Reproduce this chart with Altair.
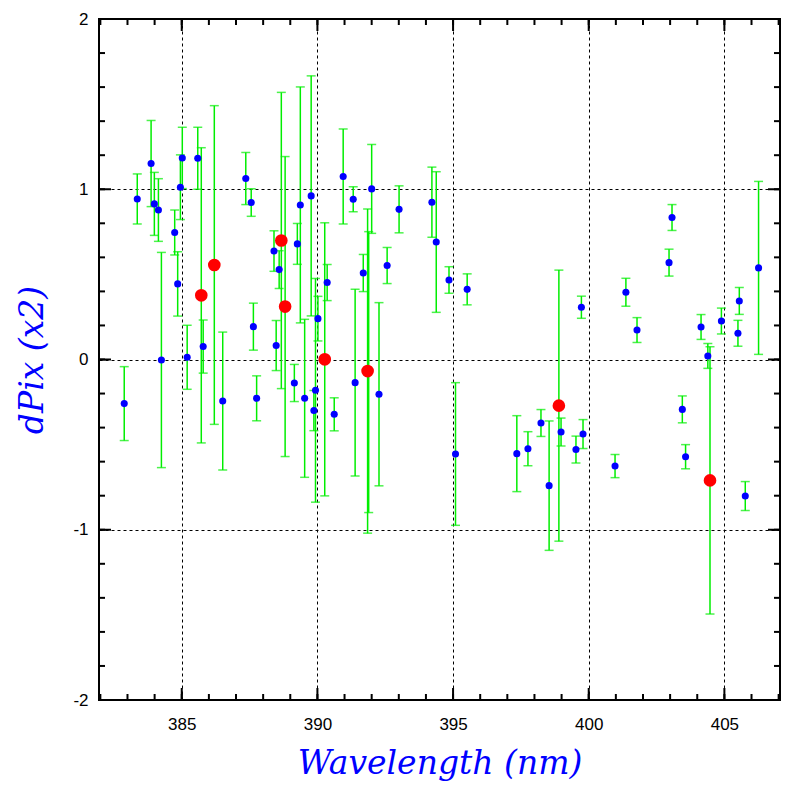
import altair as alt
import pandas as pd

# Blue series: wavelength (nm), dPix, error
blue_x = [382.88, 383.36, 383.87, 383.99, 384.14, 384.25, 384.74, 384.85, 384.95, 385.02,
          385.20, 385.59, 385.79, 386.51, 387.36, 387.56, 387.64, 387.76, 388.40, 388.48,
          388.59, 389.15, 389.26, 389.37, 389.53, 389.77, 389.87, 389.93, 390.02, 390.36,
          390.62, 390.95, 391.32, 391.39, 391.69, 391.89, 392.00, 392.27, 392.57, 393.01,
          394.22, 394.38, 394.85, 395.09, 395.52, 397.35, 397.76, 398.24, 398.54, 398.98,
          399.53, 399.73, 399.79, 400.97, 401.37, 401.78, 402.96, 403.07, 403.45, 403.57,
          404.14, 404.39, 404.89, 405.50, 405.55, 405.77, 406.26]
blue_y = [-0.259, 0.943, 1.151, 0.914, 0.878, -0.003, 0.746, 0.444, 1.012, 1.184,
          0.013, 1.182, 0.076, -0.244, 1.063, 0.922, 0.193, -0.228, 0.637, 0.082,
          0.528, -0.138, 0.679, 0.908, -0.228, 0.961, -0.300, -0.181, 0.240, 0.452,
          -0.322, 1.075, 0.941, -0.136, 0.508, -0.074, 1.002, -0.204, 0.552, 0.882,
          0.924, 0.690, 0.467, -0.555, 0.412, -0.553, -0.524, -0.373, -0.741, -0.426,
          -0.529, 0.307, -0.438, -0.626, 0.395, 0.173, 0.569, 0.834, -0.293, -0.571,
          0.191, 0.021, 0.226, 0.154, 0.344, -0.802, 0.538]
blue_err = [0.217, 0.147, 0.253, 0.185, 0.184, 0.632, 0.132, 0.189, 0.190, 0.180,
            0.188, 0.182, 0.156, 0.405, 0.153, 0.081, 0.138, 0.132, 0.119, 0.147,
            0.111, 0.109, 0.120, 0.693, 0.464, 0.705, 0.118, 0.657, 0.131, 0.106,
            0.097, 0.279, 0.073, 0.549, 0.109, 0.825, 0.261, 0.538, 0.106, 0.138,
            0.206, 0.413, 0.078, 0.419, 0.091, 0.223, 0.100, 0.079, 0.380, 0.082,
            0.079, 0.065, 0.085, 0.068, 0.082, 0.073, 0.079, 0.076, 0.079, 0.071,
            0.073, 0.073, 0.076, 0.076, 0.079, 0.085, 0.508]

# Red series
red_x = [385.72, 386.20, 388.67, 388.81, 390.27, 391.85, 398.90, 404.47]
red_y = [0.377, 0.555, 0.699, 0.311, 0.001, -0.068, -0.271, -0.710]
red_err = [0.867, 0.936, 0.870, 0.881, 0.802, 0.952, 0.796, 0.785]

# Axis ticks
x_labels = [385, 390, 395, 400, 405]
x_minor = list(range(382, 408))
y_labels = [-2, -1, 0, 1, 2]
y_minor = [-2.0, -1.8, -1.6, -1.4, -1.2, -1.0, -0.8, -0.6, -0.4, -0.2, 0.0,
           0.2, 0.4, 0.6, 0.8, 1.0, 1.2, 1.4, 1.6, 1.8, 2.0]

W, H = 681, 681
GREEN = "#00EE00"

blue = pd.DataFrame({"x": blue_x, "y": blue_y, "e": blue_err})
red = pd.DataFrame({"x": red_x, "y": red_y, "e": red_err})

xscale = alt.Scale(domain=[381.95, 407.05], nice=False, zero=False)
yscale = alt.Scale(domain=[-2, 2], nice=False, zero=False)

axis_x = alt.Axis(values=x_labels, labelExpr="datum.value + ''", ticks=False, domain=False,
                  grid=True, gridDash=[3, 3], gridColor="black", gridWidth=1, gridOpacity=1,
                  labelFont="Liberation Sans", labelFontSize=17, labelColor="black",
                  labelPadding=16, title="Wavelength (nm)", titleFont="DejaVu Serif",
                  titleFontStyle="italic", titleFontWeight="normal", titleFontSize=33,
                  titleColor="#0000FF", titlePadding=15)
axis_y = alt.Axis(values=y_labels, labelExpr="datum.value + ''", ticks=False, domain=False,
                  grid=True, gridDash=[3, 3], gridColor="black", gridWidth=1, gridOpacity=1,
                  labelFont="Liberation Sans", labelFontSize=17, labelColor="black",
                  labelPadding=11, title="dPix (x2)", titleFont="DejaVu Serif",
                  titleFontStyle="italic", titleFontWeight="normal", titleFontSize=33,
                  titleColor="#0000FF", titlePadding=23)

X = alt.X("x:Q", scale=xscale, axis=axis_x)
Y = alt.Y("y:Q", scale=yscale, axis=axis_y)


def errbars(df):
    base = alt.Chart(df).transform_calculate(lo="datum.y - datum.e", hi="datum.y + datum.e")
    rule = base.mark_rule(color=GREEN, strokeWidth=1.5).encode(
        x=X, y=alt.Y("lo:Q", scale=yscale, axis=axis_y), y2="hi:Q")
    cap_lo = base.mark_tick(color=GREEN, orient="horizontal", size=9, thickness=1.5).encode(
        x=X, y=alt.Y("lo:Q", scale=yscale, axis=axis_y))
    cap_hi = base.mark_tick(color=GREEN, orient="horizontal", size=9, thickness=1.5).encode(
        x=X, y=alt.Y("hi:Q", scale=yscale, axis=axis_y))
    return [rule, cap_lo, cap_hi]


blue_pts = alt.Chart(blue).mark_circle(color="#0000FF", size=50, opacity=1).encode(x=X, y=Y)
red_pts = alt.Chart(red).mark_circle(color="#FF0000", size=160, opacity=1).encode(x=X, y=Y)

xmin_df = pd.DataFrame({"x": x_minor})
xmaj_df = pd.DataFrame({"x": x_labels})
ymin_df = pd.DataFrame({"y": y_minor})
ymaj_df = pd.DataFrame({"y": y_labels})


def xticks(df, L):
    b = alt.Chart(df).mark_rule(color="black", strokeWidth=2).encode(
        x=X, y=alt.value(H), y2=alt.value(H - L))
    t = alt.Chart(df).mark_rule(color="black", strokeWidth=2).encode(
        x=X, y=alt.value(0), y2=alt.value(L))
    return [b, t]


def yticks(df, L):
    l = alt.Chart(df).mark_rule(color="black", strokeWidth=2).encode(
        y=Y, x=alt.value(0), x2=alt.value(L))
    r = alt.Chart(df).mark_rule(color="black", strokeWidth=2).encode(
        y=Y, x=alt.value(W), x2=alt.value(W - L))
    return [l, r]


layers = (errbars(blue) + errbars(red) + [blue_pts, red_pts]
          + xticks(xmin_df, 6) + xticks(xmaj_df, 12)
          + yticks(ymin_df, 6) + yticks(ymaj_df, 12))

chart = alt.layer(*layers).properties(
    width=W, height=H,
    autosize=alt.AutoSizeParams(type="none"),
    padding={"left": 91, "top": 11, "right": 6, "bottom": 84},
    background="white",
).configure_view(stroke="black", strokeWidth=2)

chart.save("out.html", embed_options={"renderer": "svg", "actions": False})
